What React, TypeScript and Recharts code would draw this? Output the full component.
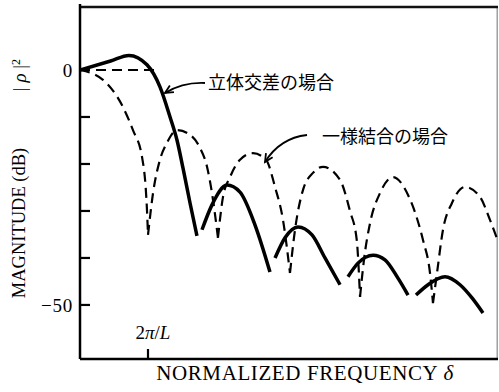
import React from 'react';
import { LineChart, Line, XAxis, YAxis, ReferenceDot } from 'recharts';

// x in units of 2π/L, y in dB
const X_DOMAIN: [number, number] = [0, 6.147];
const Y_DOMAIN: [number, number] = [-61.5, 14.04];
const yTicks = [0, -10, -20, -30, -40, -50];
const yTickLabels: Record<string, string> = { '0': '0', '-50': '−50' };
const xTicks = [1];

// frame (top and right border of the plot)
const frameTop = [
  { f: 0, db: 13.4 },
  { f: 6.147, db: 13.4 },
];
const frameRight = [
  { f: 6.135, db: -61.5 },
  { f: 6.135, db: 13.4 },
];

const zeroRef = [
  { f: 0, db: 0 },
  { f: 1.147, db: 0 },
];

// 一様結合の場合 (dashed)
const dashedLobe0 = [
  { f: 0, db: 0 }, { f: 0.338, db: -2.1 }, { f: 0.632, db: -7.9 }, { f: 0.779, db: -12.8 },
  { f: 0.912, db: -18.5 }, { f: 0.985, db: -29.8 }, { f: 1.0, db: -35.1 },
];
const dashedLobe1 = [
  { f: 1.0, db: -35.1 }, { f: 1.074, db: -26.2 }, { f: 1.176, db: -19.1 }, { f: 1.279, db: -15.5 },
  { f: 1.426, db: -12.8 }, { f: 1.618, db: -13.8 }, { f: 1.765, db: -16.6 }, { f: 1.868, db: -20.6 },
  { f: 1.941, db: -26.2 }, { f: 2.029, db: -35.7 },
];
const dashedLobe2 = [
  { f: 2.029, db: -35.7 }, { f: 2.103, db: -27.0 }, { f: 2.206, db: -22.8 }, { f: 2.353, db: -19.1 },
  { f: 2.544, db: -17.7 }, { f: 2.735, db: -19.1 }, { f: 2.868, db: -24.9 }, { f: 2.985, db: -31.9 },
  { f: 3.088, db: -43.2 },
];
const dashedLobe3 = [
  { f: 3.088, db: -43.2 }, { f: 3.162, db: -34.0 }, { f: 3.28, db: -25.5 }, { f: 3.426, db: -21.9 },
  { f: 3.574, db: -20.6 }, { f: 3.824, db: -23.4 }, { f: 3.97, db: -30.0 }, { f: 4.07, db: -36.2 },
  { f: 4.118, db: -48.3 },
];
const dashedLobe4 = [
  { f: 4.118, db: -48.3 }, { f: 4.176, db: -40.4 }, { f: 4.265, db: -32.6 }, { f: 4.412, db: -26.2 },
  { f: 4.603, db: -22.8 }, { f: 4.824, db: -26.6 }, { f: 4.897, db: -29.1 }, { f: 5.044, db: -36.2 },
  { f: 5.147, db: -43.2 }, { f: 5.191, db: -49.6 },
];
const dashedLobe5 = [
  { f: 5.191, db: -49.6 }, { f: 5.25, db: -43.2 }, { f: 5.338, db: -34.0 }, { f: 5.47, db: -28.3 },
  { f: 5.662, db: -24.9 }, { f: 5.882, db: -27.0 }, { f: 6.029, db: -31.9 }, { f: 6.135, db: -36.0 },
];

// 立体交差の場合 (solid)
const solidLobe1 = [
  { f: 0, db: 0 }, { f: 0.45, db: 1.9 }, { f: 0.72, db: 3.1 }, { f: 0.985, db: 1.1 },
  { f: 1.176, db: -3.6 }, { f: 1.324, db: -10.0 }, { f: 1.426, db: -14.9 }, { f: 1.515, db: -20.9 },
  { f: 1.618, db: -28.3 }, { f: 1.72, db: -35.3 },
];
const solidLobe2 = [
  { f: 1.794, db: -34.0 }, { f: 1.941, db: -28.7 }, { f: 2.162, db: -24.5 }, { f: 2.353, db: -26.0 },
  { f: 2.574, db: -33.0 }, { f: 2.794, db: -43.0 },
];
const solidLobe3 = [
  { f: 2.868, db: -40.0 }, { f: 3.015, db: -35.7 }, { f: 3.206, db: -33.4 }, { f: 3.412, db: -35.1 },
  { f: 3.603, db: -40.0 }, { f: 3.824, db: -45.7 },
];
const solidLobe4 = [
  { f: 3.941, db: -44.0 }, { f: 4.088, db: -41.1 }, { f: 4.309, db: -39.4 }, { f: 4.485, db: -40.4 },
  { f: 4.676, db: -44.3 }, { f: 4.824, db: -47.9 },
];
const solidLobe5 = [
  { f: 4.941, db: -47.9 }, { f: 5.118, db: -45.7 }, { f: 5.368, db: -44.0 }, { f: 5.588, db: -45.7 },
  { f: 5.765, db: -48.5 }, { f: 5.926, db: -51.7 },
];

const dashedLobes = [dashedLobe0, dashedLobe1, dashedLobe2, dashedLobe3, dashedLobe4, dashedLobe5];
const solidLobes = [solidLobe1, solidLobe2, solidLobe3, solidLobe4, solidLobe5];

const labelSolid = '立体交差の場合';
const labelDashed = '一様結合の場合';
const labelSolidAt = { f: 1.882, db: -2.77 };
const labelDashedAt = { f: 3.559, db: -14.26 };

const serif = '"Liberation Serif", "Times New Roman", serif';
const cjk = '"Noto Sans CJK JP", "Noto Sans CJK SC", sans-serif';

function arrowHead(tx: number, ty: number, fx: number, fy: number, len = 9, ang = 0.45) {
  const a = Math.atan2(fy - ty, fx - tx);
  const x1 = tx + len * Math.cos(a + ang);
  const y1 = ty + len * Math.sin(a + ang);
  const x2 = tx + len * Math.cos(a - ang);
  const y2 = ty + len * Math.sin(a - ang);
  return `M${x1},${y1} L${tx},${ty} L${x2},${y2}`;
}

const AnnotSolid = (props: any) => {
  const { cx, cy } = props;
  const sx = cx - 3, sy = cy;
  const qx = cx - 25, qy = cy - 1;
  const tx = cx - 43, ty = cy + 10;
  return (
    <g>
      <path d={`M${sx},${sy} Q${qx},${qy} ${tx},${ty}`} fill="none" stroke="#000" strokeWidth={1.8} />
      <path d={arrowHead(tx, ty, qx, qy)} fill="none" stroke="#000" strokeWidth={1.8} />
      <text x={cx} y={cy} dy="0.36em" fontFamily={cjk} fontSize={18} fill="#000">{labelSolid}</text>
    </g>
  );
};

const AnnotDashed = (props: any) => {
  const { cx, cy } = props;
  const sx = cx - 15, sy = cy - 2;
  const qx = cx - 42, qy = cy + 1;
  const tx = cx - 57, ty = cy + 25;
  return (
    <g>
      <path d={`M${sx},${sy} Q${qx},${qy} ${tx},${ty}`} fill="none" stroke="#000" strokeWidth={1.8} />
      <path d={arrowHead(tx, ty, qx, qy)} fill="none" stroke="#000" strokeWidth={1.8} />
      <text x={cx} y={cy} dy="0.36em" fontFamily={cjk} fontSize={18} fill="#000">{labelDashed}</text>
    </g>
  );
};

const YTick = (props: any) => {
  const { x, y, payload } = props;
  const label = yTickLabels[String(payload.value)];
  return (
    <g>
      <line x1={x} y1={y} x2={x + 10} y2={y} stroke="#000" strokeWidth={2.2} />
      {label !== undefined && (
        <text x={x - 7} y={y} dy="0.35em" textAnchor="end" fontFamily={serif} fontSize={19} fill="#000" letterSpacing={0.8}>
          {label}
        </text>
      )}
    </g>
  );
};

const XTick = (props: any) => {
  const { x, y } = props;
  return (
    <g>
      <line x1={x} y1={y} x2={x} y2={y - 10} stroke="#000" strokeWidth={2.2} />
      <text x={x + 5} y={y - 27} dy="0.35em" textAnchor="middle" fontFamily={serif} fontSize={19} fill="#000">
        <tspan>2</tspan>
        <tspan fontStyle="italic">π</tspan>
        <tspan>/</tspan>
        <tspan fontStyle="italic">L</tspan>
      </text>
    </g>
  );
};

const YLabel = (props: any) => {
  const vb = props.viewBox || { x: 0, y: 4, width: 80, height: 355 };
  const cx = vb.x + 19;
  const c1 = vb.y + 219;
  const c2 = vb.y + 71;
  return (
    <g fontFamily={serif} fill="#000">
      <text x={cx} y={c1} transform={`rotate(-90, ${cx}, ${c1})`} textAnchor="middle" dy="0.35em" fontSize={18.5}>
        MAGNITUDE (dB)
      </text>
      <text x={cx} y={c2} transform={`rotate(-90, ${cx}, ${c2})`} textAnchor="middle" dy="0.35em" fontSize={19}>
        <tspan>|</tspan>
        <tspan fontStyle="italic"> ρ </tspan>
        <tspan>|</tspan>
        <tspan dy="-6" fontSize={12}>2</tspan>
      </text>
    </g>
  );
};

const XLabel = (props: any) => {
  const vb = props.viewBox || { x: 80, y: 359, width: 418, height: 33 };
  const cx = vb.x + vb.width / 2 + 16;
  const by = vb.y + 21;
  return (
    <text x={cx} y={by} textAnchor="middle" fontFamily={serif} fontSize={21} fill="#000" letterSpacing={0.6}>
      <tspan>NORMALIZED FREQUENCY </tspan>
      <tspan fontStyle="italic">δ</tspan>
    </text>
  );
};

function XLabelWrap(props: any) {
  return <XLabel {...props} />;
}
function YLabelWrap(props: any) {
  return <YLabel {...props} />;
}

export default function App() {
  return (
    <div style={{ position: 'absolute', left: 0, top: 0, width: 499, height: 392, background: '#fff' }}>
      <LineChart width={499} height={392} margin={{ top: 4, right: 1, bottom: 0, left: 0 }}>
        <XAxis
          dataKey="f"
          type="number"
          domain={X_DOMAIN}
          ticks={xTicks}
          allowDataOverflow
          height={33}
          axisLine={{ stroke: '#000', strokeWidth: 2.5 }}
          tickLine={false}
          tickSize={0}
          tickMargin={0}
          tick={<XTick />}
          label={<XLabelWrap />}
        />
        <YAxis
          type="number"
          domain={Y_DOMAIN}
          ticks={yTicks}
          allowDataOverflow
          width={80}
          axisLine={{ stroke: '#000', strokeWidth: 2.5 }}
          tickLine={false}
          tickSize={0}
          tickMargin={0}
          tick={<YTick />}
          interval={0}
          label={<YLabelWrap />}
        />
        <Line
          data={frameRight}
          dataKey="db"
          type="linear"
          stroke="#888"
          strokeWidth={1.2}
          dot={false}
          activeDot={false}
          isAnimationActive={false}
        />
        <Line
          data={frameTop}
          dataKey="db"
          type="linear"
          stroke="#111"
          strokeWidth={2.5}
          dot={false}
          activeDot={false}
          isAnimationActive={false}
        />
        <Line
          data={zeroRef}
          dataKey="db"
          type="linear"
          stroke="#000"
          strokeWidth={2}
          strokeDasharray="10 6"
          dot={false}
          activeDot={false}
          isAnimationActive={false}
        />
        {dashedLobes.map((d, i) => (
          <Line
            key={'d' + i}
            data={d}
            dataKey="db"
            type="monotone"
            stroke="#000"
            strokeWidth={2.2}
            strokeDasharray="10 6"
            dot={false}
            activeDot={false}
            isAnimationActive={false}
          />
        ))}
        {solidLobes.map((d, i) => (
          <Line
            key={'s' + i}
            data={d}
            dataKey="db"
            type="monotone"
            stroke="#000"
            strokeWidth={3.5}
            dot={false}
            activeDot={false}
            isAnimationActive={false}
          />
        ))}
        <ReferenceDot x={labelSolidAt.f} y={labelSolidAt.db} r={0} shape={<AnnotSolid />} />
        <ReferenceDot x={labelDashedAt.f} y={labelDashedAt.db} r={0} shape={<AnnotDashed />} />
      </LineChart>
    </div>
  );
}
